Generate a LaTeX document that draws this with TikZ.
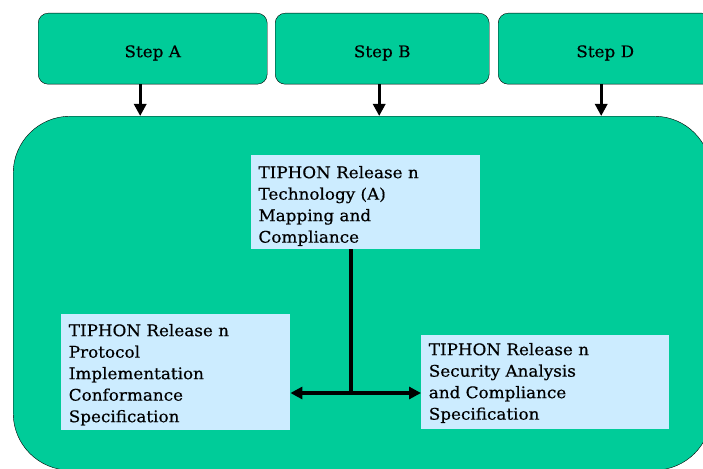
\documentclass[tikz,border=0pt]{standalone}
\usepackage{fontspec}
\setmainfont[FakeStretch=1.05,FakeBold=0.5]{DejaVu Serif}
\usetikzlibrary{arrows.meta,positioning}
\definecolor{tiphongreen}{RGB}{0,204,153}
\definecolor{tiphonblue}{RGB}{204,236,255}

\begin{document}
\begin{tikzpicture}[x=1pt,y=-1pt,font=\fontsize{16}{21.5}\selectfont,
    >={Triangle[length=12pt,width=12pt]},
    stepbox/.style={draw,thin,fill=tiphongreen,rounded corners=10pt,
        minimum height=71pt,anchor=north west,inner sep=0pt,
        text height=17pt,text depth=0pt},
    releasebox/.style={fill=tiphonblue,anchor=north west,inner sep=0pt},
    releasetext/.style={align=left,inner sep=0pt,anchor=north west},
    flow/.style={line width=3.2pt}]
    \useasboundingbox (0,0) rectangle (703,468);
    \clip (0,0) rectangle (703,468);

    \node[draw,thin,fill=tiphongreen,rounded corners=57pt,anchor=north west,
        minimum width=698pt,minimum height=354pt] (main) at (13,116) {};

    \node[stepbox,minimum width=229pt] (stepA) at (38,13) {Step A};
    \node[stepbox,minimum width=214pt] (stepB) at (275,13) {Step B};
    \node[stepbox,minimum width=214pt] (stepD) at (498,13) {Step D};

    \draw[flow,->] ([xshift=-12.5pt]stepA.south) -- ([xshift=-12.5pt]stepA.south |- main.north);
    \draw[flow,->] ([xshift=-3pt]stepB.south) -- ([xshift=-3pt]stepB.south |- main.north);
    \draw[flow,->] ([xshift=-4pt]stepD.south) -- ([xshift=-4pt]stepD.south |- main.north);

    \node[releasebox,minimum width=229pt,minimum height=94pt] (techbox) at (251,155) {};
    \node[releasebox,minimum width=229pt,minimum height=116pt] (protobox) at (61,314) {};
    \node[releasebox,minimum width=248pt,minimum height=94pt] (secbox) at (421,335) {};

    \node[releasetext,below right=10.8pt and 7.3pt of techbox.north west] (techtext)
        {TIPHON Release n\\ Technology (A)\\ Mapping and\\ Compliance};
    \node[releasetext,below right=9.8pt and 7.6pt of protobox.north west] (prototext)
        {TIPHON Release n\\ Protocol\\ Implementation\\ Conformance\\ Specification};
    \node[releasetext,below right=7.8pt and 7.6pt of secbox.north west] (sectext)
        {TIPHON Release n\\ Security Analysis\\ and Compliance\\ Specification};

    \coordinate (hub) at (351,393);
    \draw[flow] (techbox.south -| hub) -- (hub);
    \draw[flow,<->] (protobox.east |- hub) -- (secbox.west |- hub);
\end{tikzpicture}
\end{document}
